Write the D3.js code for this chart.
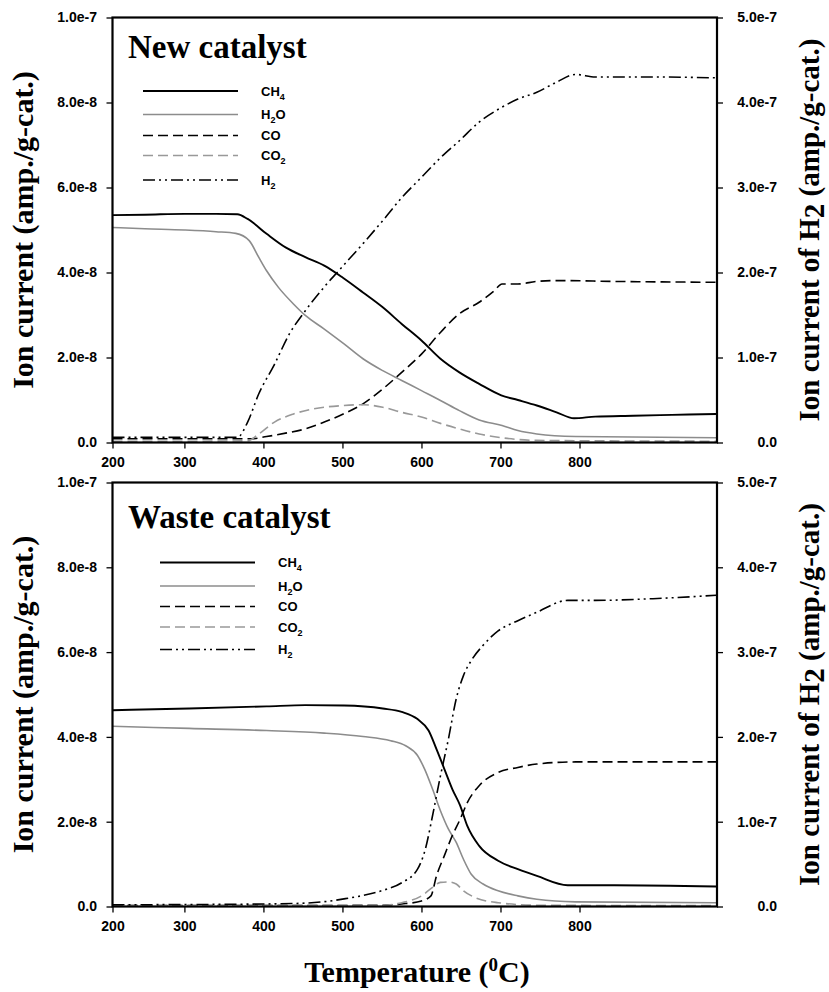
<!DOCTYPE html>
<html>
<head>
<meta charset="utf-8">
<script src="https://cdn.jsdelivr.net/npm/d3@7"></script>
<style>
  html, body { margin: 0; padding: 0; background: #fff; }
  svg { display: block; }
</style>
</head>
<body>
<svg id="chart" width="829" height="992"></svg>
<script>
// ---------------- DATA ----------------
// x axis (temperature, °C); first tick sits at the axis start and is labelled 200
const xDomain = [209, 974];
const xTickValues = [209, 300, 400, 500, 600, 700, 800];
const xTickLabels = ["200", "300", "400", "500", "600", "700", "800"];
const leftTickValues = [0, 2e-8, 4e-8, 6e-8, 8e-8, 1e-7];
const leftTickLabels = ["0.0", "2.0e-8", "4.0e-8", "6.0e-8", "8.0e-8", "1.0e-7"];
const rightTickValues = [0, 1e-7, 2e-7, 3e-7, 4e-7, 5e-7];
const rightTickLabels = ["0.0", "1.0e-7", "2.0e-7", "3.0e-7", "4.0e-7", "5.0e-7"];
const seriesNames = ["CH4", "H2O", "CO", "CO2", "H2"];
const panelTitles = ["New catalyst", "Waste catalyst"];

// New catalyst (CH4, H2O, CO, CO2 in units of 1e-8 A/g ; H2 in units of 1e-7 A/g)
const newCH4_T = [209, 250, 300, 340, 367, 380, 404, 428, 453, 477, 501, 526, 551, 575, 600, 624, 648, 673, 701, 722, 746, 771, 793, 820, 868, 917, 973];
const newCH4_V = [5.35, 5.36, 5.38, 5.38, 5.37, 5.26, 4.91, 4.59, 4.36, 4.16, 3.87, 3.53, 3.18, 2.79, 2.40, 1.97, 1.65, 1.38, 1.11, 1.00, 0.87, 0.71, 0.57, 0.61, 0.63, 0.65, 0.67];
const newH2O_T = [209, 250, 300, 340, 365, 382, 394, 404, 419, 438, 453, 477, 502, 526, 551, 575, 600, 624, 648, 673, 702, 722, 746, 795, 973];
const newH2O_V = [5.06, 5.03, 5.00, 4.96, 4.92, 4.75, 4.36, 4.04, 3.65, 3.26, 2.99, 2.67, 2.32, 1.97, 1.69, 1.46, 1.22, 0.99, 0.75, 0.53, 0.40, 0.28, 0.20, 0.14, 0.11];
const newCO_T = [209, 300, 385, 404, 428, 453, 477, 501, 526, 551, 575, 600, 624, 648, 673, 692, 702, 722, 746, 771, 844, 973];
const newCO_V = [0.09, 0.09, 0.09, 0.14, 0.22, 0.32, 0.48, 0.67, 0.91, 1.26, 1.65, 2.08, 2.59, 3.03, 3.30, 3.57, 3.73, 3.73, 3.79, 3.81, 3.79, 3.77];
const newCO2_T = [209, 300, 380, 394, 414, 438, 463, 501, 526, 551, 575, 600, 624, 648, 673, 702, 746, 973];
const newCO2_V = [0.03, 0.03, 0.04, 0.20, 0.48, 0.67, 0.79, 0.87, 0.89, 0.83, 0.71, 0.60, 0.45, 0.32, 0.20, 0.11, 0.05, 0.03];
const newH2_T = [209, 300, 367, 380, 394, 414, 433, 453, 477, 501, 526, 551, 575, 600, 624, 648, 673, 701, 722, 746, 771, 795, 820, 893, 973];
const newH2_V = [0.06, 0.06, 0.06, 0.24, 0.57, 0.92, 1.28, 1.55, 1.83, 2.08, 2.34, 2.61, 2.88, 3.12, 3.35, 3.55, 3.77, 3.94, 4.04, 4.12, 4.24, 4.33, 4.30, 4.30, 4.29];

// Waste catalyst
const wasteCH4_T = [209, 306, 404, 453, 502, 551, 575, 595, 609, 619, 629, 639, 649, 658, 673, 697, 722, 746, 785, 844, 973];
const wasteCH4_V = [4.63, 4.67, 4.72, 4.75, 4.74, 4.67, 4.59, 4.42, 4.15, 3.71, 3.24, 2.77, 2.38, 1.90, 1.43, 1.08, 0.88, 0.72, 0.50, 0.50, 0.47];
const wasteH2O_T = [209, 306, 404, 477, 526, 561, 580, 595, 604, 614, 624, 634, 644, 653, 663, 678, 697, 722, 746, 795, 973];
const wasteH2O_V = [4.25, 4.20, 4.15, 4.09, 4.01, 3.91, 3.79, 3.56, 3.24, 2.77, 2.26, 1.83, 1.51, 1.12, 0.76, 0.53, 0.37, 0.25, 0.17, 0.11, 0.09];
const wasteCO_T = [209, 400, 551, 575, 600, 612, 619, 629, 639, 649, 658, 673, 697, 722, 746, 795, 973];
const wasteCO_V = [0.02, 0.02, 0.03, 0.06, 0.13, 0.25, 0.72, 1.20, 1.67, 2.06, 2.45, 2.85, 3.16, 3.28, 3.36, 3.41, 3.41];
const wasteCO2_T = [209, 400, 551, 575, 600, 614, 624, 634, 644, 653, 668, 697, 746, 973];
const wasteCO2_V = [0.03, 0.03, 0.03, 0.09, 0.25, 0.45, 0.57, 0.58, 0.53, 0.37, 0.21, 0.09, 0.03, 0.02];
const wasteH2_T = [209, 404, 453, 480, 502, 526, 551, 575, 595, 605, 614, 624, 634, 644, 653, 663, 678, 697, 722, 746, 785, 820, 893, 973];
const wasteH2_V = [0.02, 0.03, 0.04, 0.06, 0.09, 0.13, 0.19, 0.28, 0.44, 0.68, 1.07, 1.54, 1.97, 2.45, 2.72, 2.90, 3.08, 3.25, 3.37, 3.47, 3.61, 3.61, 3.63, 3.67];

// ---------------- LAYOUT / STYLE ----------------
const X0 = 112.5, X1 = 717;
const panels = [
  { top: 17.5, bottom: 442.5, title: panelTitles[0], titleY: 58, legX1: 143, legX2: 238, legLX: 261,
    legY: [91, 114.5, 135.5, 155.5, 180],
    series: [[newCH4_T, newCH4_V], [newH2O_T, newH2O_V], [newCO_T, newCO_V], [newCO2_T, newCO2_V], [newH2_T, newH2_V]] },
  { top: 482.5, bottom: 906.5, title: panelTitles[1], titleY: 528, legX1: 160, legX2: 255, legLX: 278,
    legY: [562.5, 586, 606.5, 627, 649.5],
    series: [[wasteCH4_T, wasteCH4_V], [wasteH2O_T, wasteH2O_V], [wasteCO_T, wasteCO_V], [wasteCO2_T, wasteCO2_V], [wasteH2_T, wasteH2_V]] }
];
const styles = {
  CH4: { color: "#000", width: 1.9, dash: null, axis: "L", unit: 1e-8 },
  H2O: { color: "#8c8c8c", width: 1.6, dash: null, axis: "L", unit: 1e-8 },
  CO:  { color: "#000", width: 1.6, dash: "10,5", axis: "L", unit: 1e-8 },
  CO2: { color: "#999", width: 1.6, dash: "10,5", axis: "L", unit: 1e-8 },
  H2:  { color: "#000", width: 1.6, dash: "12,4,2,4,2,4", axis: "R", unit: 1e-7 }
};
const SANS = "'Liberation Sans', Arial, Helvetica, sans-serif";
const SERIF = "'Liberation Serif', 'Times New Roman', Times, serif";

const svg = d3.select("#chart");
const x = d3.scaleLinear().domain(xDomain).range([X0, X1]);

panels.forEach((p, pi) => {
  const yL = d3.scaleLinear().domain([0, 1e-7]).range([p.bottom, p.top]);
  const yR = d3.scaleLinear().domain([0, 5e-7]).range([p.bottom, p.top]);
  const g = svg.append("g");

  const clipId = "clip" + pi;
  svg.append("clipPath").attr("id", clipId).append("rect")
    .attr("x", X0).attr("y", p.top).attr("width", X1 - X0).attr("height", p.bottom - p.top);

  // lines
  const lines = g.append("g").attr("clip-path", `url(#${clipId})`);
  seriesNames.forEach((name, si) => {
    const st = styles[name];
    const [T, V] = p.series[si];
    const yS = st.axis === "L" ? yL : yR;
    const data = T.map((t, i) => [t, V[i] * st.unit]);
    const line = d3.line().x(d => x(d[0])).y(d => yS(d[1])).curve(d3.curveMonotoneX);
    lines.append("path").datum(data).attr("d", line)
      .attr("fill", "none").attr("stroke", st.color).attr("stroke-width", st.width)
      .attr("stroke-dasharray", st.dash).attr("stroke-linejoin", "round");
  });

  // axes
  const axB = g.append("g").attr("transform", `translate(0,${p.bottom})`)
    .call(d3.axisBottom(x).tickValues(xTickValues).tickFormat((d, i) => xTickLabels[i])
      .tickSizeInner(6).tickSizeOuter(0).tickPadding(9));
  const axL = g.append("g").attr("transform", `translate(${X0},0)`)
    .call(d3.axisLeft(yL).tickValues(leftTickValues).tickFormat((d, i) => leftTickLabels[i])
      .tickSizeInner(6).tickSizeOuter(0).tickPadding(9.5));
  const axR = g.append("g").attr("transform", `translate(${X1},0)`)
    .call(d3.axisRight(yR).tickValues(rightTickValues).tickFormat((d, i) => rightTickLabels[i])
      .tickSizeInner(6).tickSizeOuter(0));
  axR.selectAll(".tick text").attr("x", 60).attr("text-anchor", "end");
  [axB, axL, axR].forEach(a => {
    a.select(".domain").remove();
    a.selectAll(".tick line").attr("stroke", "#000").attr("stroke-width", 1.3);
    a.selectAll(".tick text").attr("font-family", SANS).attr("font-weight", "bold")
      .attr("font-size", 14).attr("fill", "#000");
  });

  // frame
  g.append("rect").attr("x", X0).attr("y", p.top).attr("width", X1 - X0).attr("height", p.bottom - p.top)
    .attr("fill", "none").attr("stroke", "#000").attr("stroke-width", 2.2);

  // panel title
  g.append("text").attr("x", 128).attr("y", p.titleY).text(p.title)
    .attr("font-family", SERIF).attr("font-weight", "bold").attr("font-size", 33).attr("fill", "#000");

  // legend
  const leg = g.append("g");
  seriesNames.forEach((name, si) => {
    const st = styles[name];
    const yy = p.legY[si];
    leg.append("line").attr("x1", p.legX1).attr("x2", p.legX2).attr("y1", yy).attr("y2", yy)
      .attr("stroke", st.color).attr("stroke-width", st.width).attr("stroke-dasharray", st.dash);
    const t = leg.append("text").attr("x", p.legLX).attr("y", yy + 4.5)
      .attr("font-family", SANS).attr("font-weight", "bold").attr("font-size", 13).attr("fill", "#000");
    const parts = name.split(/(\d)/).filter(s => s.length);
    parts.forEach((part, k) => {
      if (/^\d$/.test(part)) {
        t.append("tspan").attr("font-size", 9).attr("dy", 4).text(part);
      } else {
        const ts = t.append("tspan").text(part);
        if (k > 0) ts.attr("dy", -4);
      }
    });
  });

  // y axis titles
  const cy = (p.top + p.bottom) / 2;
  g.append("text").attr("transform", `translate(33,${cy}) rotate(-90)`)
    .attr("text-anchor", "middle").attr("font-family", SERIF).attr("font-weight", "bold")
    .attr("font-size", 30).attr("fill", "#000").text("Ion current (amp./g-cat.)");
  const rt = g.append("text").attr("transform", `translate(819,${cy}) rotate(-90)`)
    .attr("text-anchor", "middle").attr("font-family", SERIF).attr("font-weight", "bold")
    .attr("font-size", 29).attr("fill", "#000");
  rt.append("tspan").text("Ion current of H");
  rt.append("tspan").attr("dy", 5).text("2");
  rt.append("tspan").attr("dy", -5).text(" (amp./g-cat.)");
});

// x axis title
const xt = svg.append("text").attr("x", 417).attr("y", 982).attr("text-anchor", "middle")
  .attr("font-family", SERIF).attr("font-weight", "bold").attr("font-size", 30).attr("fill", "#000");
xt.append("tspan").text("Temperature (");
xt.append("tspan").attr("font-size", 19).attr("dy", -11).text("0");
xt.append("tspan").attr("dy", 11).text("C)");
</script>
</body>
</html>
